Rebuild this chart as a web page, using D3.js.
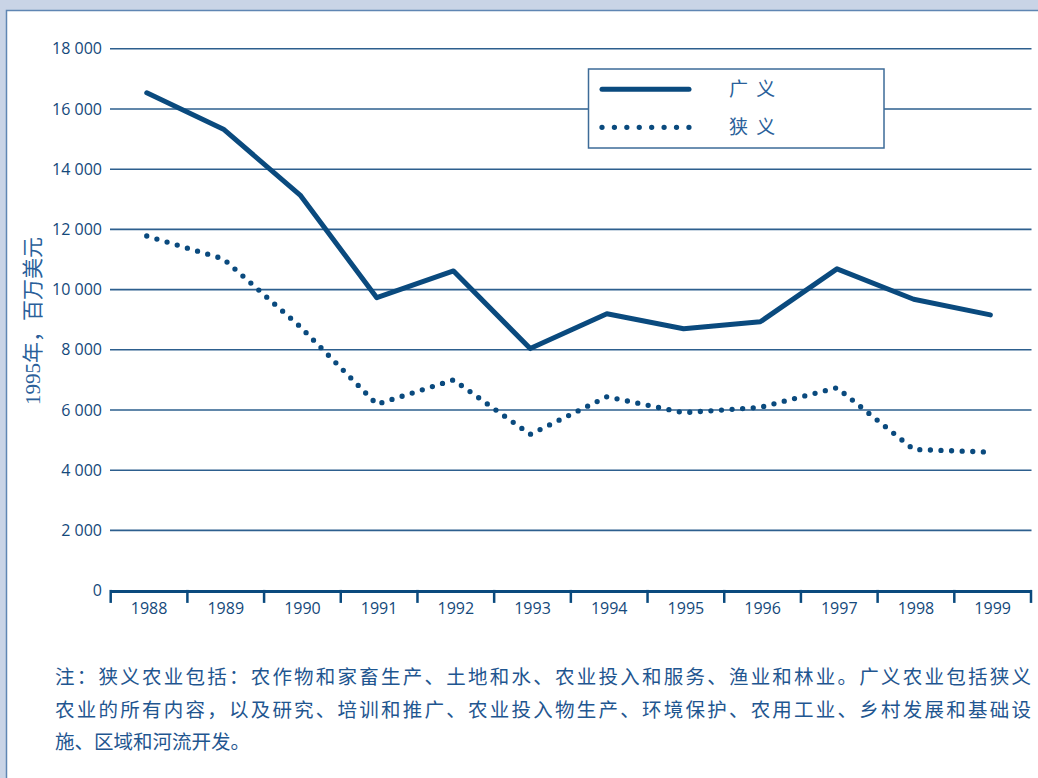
<!DOCTYPE html>
<html>
<head>
<meta charset="utf-8">
<script src="https://cdn.jsdelivr.net/npm/d3@7"></script>
<style>
  html, body { margin: 0; padding: 0; background: #c9d4e6; }
  svg { display: block; }
</style>
</head>
<body>
<svg id="chart" width="1038" height="778"></svg>
<script>
// ---- data ----
const years = ["1988","1989","1990","1991","1992","1993","1994","1995","1996","1997","1998","1999"];
const broad  = [16540, 15330, 13140, 9730, 10620, 8040, 9200, 8700, 8930, 10690, 9680, 9160];
const narrow = [11780, 11020, 8770, 6190, 7000, 5190, 6440, 5910, 6090, 6740, 4690, 4600];
const yTicks = [0, 2000, 4000, 6000, 8000, 10000, 12000, 14000, 16000, 18000];
const seriesNames = ["广 义", "狭 义"];
const yTitle = "1995年，百万美元";
const noteLines = [
  "注：狭义农业包括：农作物和家畜生产、土地和水、农业投入和服务、渔业和林业。广义农业包括狭义",
  "农业的所有内容，以及研究、培训和推广、农业投入物生产、环境保护、农用工业、乡村发展和基础设",
  "施、区域和河流开发。"
];

// ---- drawing ----
const svg = d3.select("#chart");
const dark = "#0a4a7e";
const gridC = "#2d5f8e";
const labelC = "#15497b";

// panel
svg.append("rect").attr("x", 6.5).attr("y", 10.5).attr("width", 1040).attr("height", 780)
  .attr("fill", "#ffffff").attr("stroke", "#5f86b3").attr("stroke-width", 1.5);

const x = d3.scaleBand().domain(years).range([110.7, 1031]);
const y = d3.scaleLinear().domain([0, 18000]).range([590.6, 48.8]);
const px = d => x(d) + x.bandwidth() * 0.47;

// gridlines
svg.append("g").selectAll("line").data(yTicks.filter(t => t > 0)).join("line")
  .attr("x1", 110).attr("x2", 1031.5)
  .attr("y1", d => y(d)).attr("y2", d => y(d))
  .attr("stroke", gridC).attr("stroke-width", 1.6);

// y tick labels
const fmt = v => d3.format(",")(v).replace(/,/g, " ");
svg.append("g").selectAll("text").data(yTicks).join("text")
  .attr("x", 102).attr("y", d => y(d)).attr("dy", "0.35em")
  .attr("text-anchor", "end")
  .attr("font-family", "'Open Sans', 'Noto Sans', sans-serif")
  .attr("font-size", 16).attr("fill", labelC)
  .text(fmt);

// x axis line + ticks
const y0 = y(0) + 0.8;
svg.append("line").attr("x1", 110.7).attr("x2", 1031).attr("y1", y0).attr("y2", y0)
  .attr("stroke", dark).attr("stroke-width", 3);
const bounds = years.map(d => x(d)).concat([x.range()[1]]);
svg.append("g").selectAll("line").data(bounds).join("line")
  .attr("x1", d => d).attr("x2", d => d)
  .attr("y1", y0 - 1.5).attr("y2", y0 + 11.5)
  .attr("stroke", dark).attr("stroke-width", 2.5);
svg.append("g").selectAll("text").data(years).join("text")
  .attr("x", d => x(d) + x.bandwidth() / 2).attr("y", 608).attr("dy", "0.35em")
  .attr("text-anchor", "middle")
  .attr("font-family", "'Open Sans', 'Noto Sans', sans-serif")
  .attr("font-size", 16).attr("fill", labelC)
  .text(d => d);

// y title
svg.append("text")
  .attr("transform", "translate(40,321) rotate(-90)")
  .attr("text-anchor", "middle")
  .attr("font-family", "'Liberation Serif', 'Noto Sans CJK SC', serif")
  .attr("font-size", 21).attr("fill", "#2a5f9a")
  .text(yTitle);

// lines
const line = d3.line().x((d, i) => px(years[i])).y(d => y(d));
svg.append("path").datum(broad).attr("d", line)
  .attr("fill", "none").attr("stroke", dark).attr("stroke-width", 5)
  .attr("stroke-linecap", "round").attr("stroke-linejoin", "round");
svg.append("path").datum(narrow).attr("d", line)
  .attr("fill", "none").attr("stroke", dark).attr("stroke-width", 5.3)
  .attr("stroke-linecap", "round").attr("stroke-dasharray", "0 10.6");

// legend
const lg = svg.append("g");
lg.append("rect").attr("x", 588.5).attr("y", 69).attr("width", 295.5).attr("height", 79)
  .attr("fill", "#ffffff").attr("stroke", "#3d6b98").attr("stroke-width", 1.5);
lg.append("line").attr("x1", 602).attr("x2", 689).attr("y1", 89.3).attr("y2", 89.3)
  .attr("stroke", dark).attr("stroke-width", 5).attr("stroke-linecap", "round");
lg.append("line").attr("x1", 602).attr("x2", 689.5).attr("y1", 127.3).attr("y2", 127.3)
  .attr("stroke", dark).attr("stroke-width", 5.3).attr("stroke-linecap", "round")
  .attr("stroke-dasharray", "0 12.42");
lg.selectAll("text.lab").data(seriesNames).join("text").attr("class", "lab")
  .attr("x", 729).attr("y", (d, i) => i === 0 ? 89 : 127).attr("dy", "0.36em")
  .attr("font-family", "'Noto Sans CJK SC', sans-serif")
  .attr("font-size", 19).attr("letter-spacing", 2).attr("fill", "#2a5f9a")
  .text(d => d);

// footnote
const nt = svg.append("g");
nt.selectAll("text").data(noteLines).join("text")
  .attr("x", 55).attr("y", (d, i) => 677 + i * 32.5).attr("dy", "0.36em")
  .attr("font-family", "'Noto Sans CJK SC', sans-serif")
  .attr("font-size", 19.5).attr("fill", "#1f5690")
  .each(function(d, i) {
    if (i < 2) d3.select(this).attr("textLength", 976).attr("lengthAdjust", "spacing");
  })
  .text(d => d);
</script>
</body>
</html>
